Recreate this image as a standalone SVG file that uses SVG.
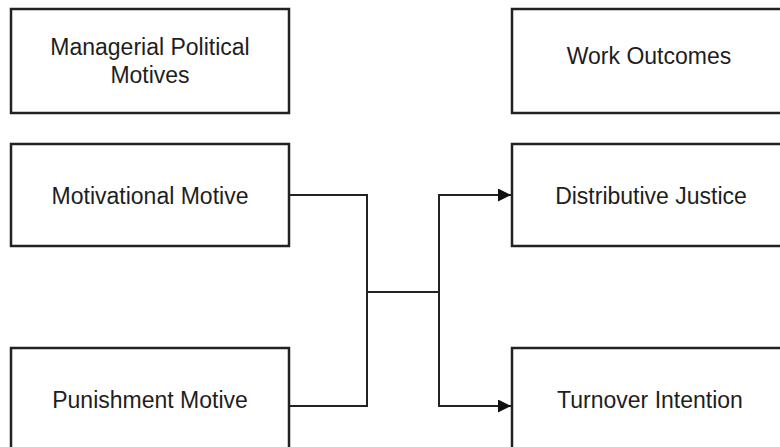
<svg xmlns="http://www.w3.org/2000/svg" width="780" height="447" viewBox="0 0 780 447">
<style>
.box{fill:#fff;stroke:#222;stroke-width:2.5}
.lbl{font-family:"Liberation Sans",Arial,sans-serif;font-size:23px;fill:#1e1e1e;text-anchor:middle}
.con{fill:none;stroke:#222;stroke-width:2}
</style>
<defs>
<marker id="arr" markerWidth="14" markerHeight="14" refX="13" refY="6.5" orient="auto" markerUnits="userSpaceOnUse">
<path d="M0,0 L13,6.5 L0,13 Z" fill="#111"/>
</marker>
</defs>
<rect width="780" height="447" fill="#fff"/>
<g id="managerial">
<rect class="box" x="11" y="9" width="278" height="104"/>
<text class="lbl" x="150" y="55">Managerial Political</text>
<text class="lbl" x="150" y="83">Motives</text>
</g>
<g id="work-outcomes">
<rect class="box" x="512" y="9" width="278" height="104"/>
<text class="lbl" x="649" y="64">Work Outcomes</text>
</g>
<g id="motivational">
<rect class="box" x="11" y="144" width="278" height="102"/>
<text class="lbl" x="150" y="204">Motivational Motive</text>
</g>
<g id="punishment">
<rect class="box" x="11" y="348" width="278" height="104"/>
<text class="lbl" x="150" y="408">Punishment Motive</text>
</g>
<g id="distributive">
<rect class="box" x="512" y="144" width="278" height="102"/>
<text class="lbl" x="651" y="204">Distributive Justice</text>
</g>
<g id="turnover">
<rect class="box" x="512" y="348" width="278" height="104"/>
<text class="lbl" x="650" y="408">Turnover Intention</text>
</g>
<g id="connectors">
<path class="con" d="M289,195 H367 V406 H289"/>
<path class="con" d="M367,292 H439"/>
<path class="con" d="M511,195 H439 V406 H511"/>
<path class="con" d="M439,195 H511" marker-end="url(#arr)"/>
<path class="con" d="M439,406 H511" marker-end="url(#arr)"/>
</g>
</svg>
